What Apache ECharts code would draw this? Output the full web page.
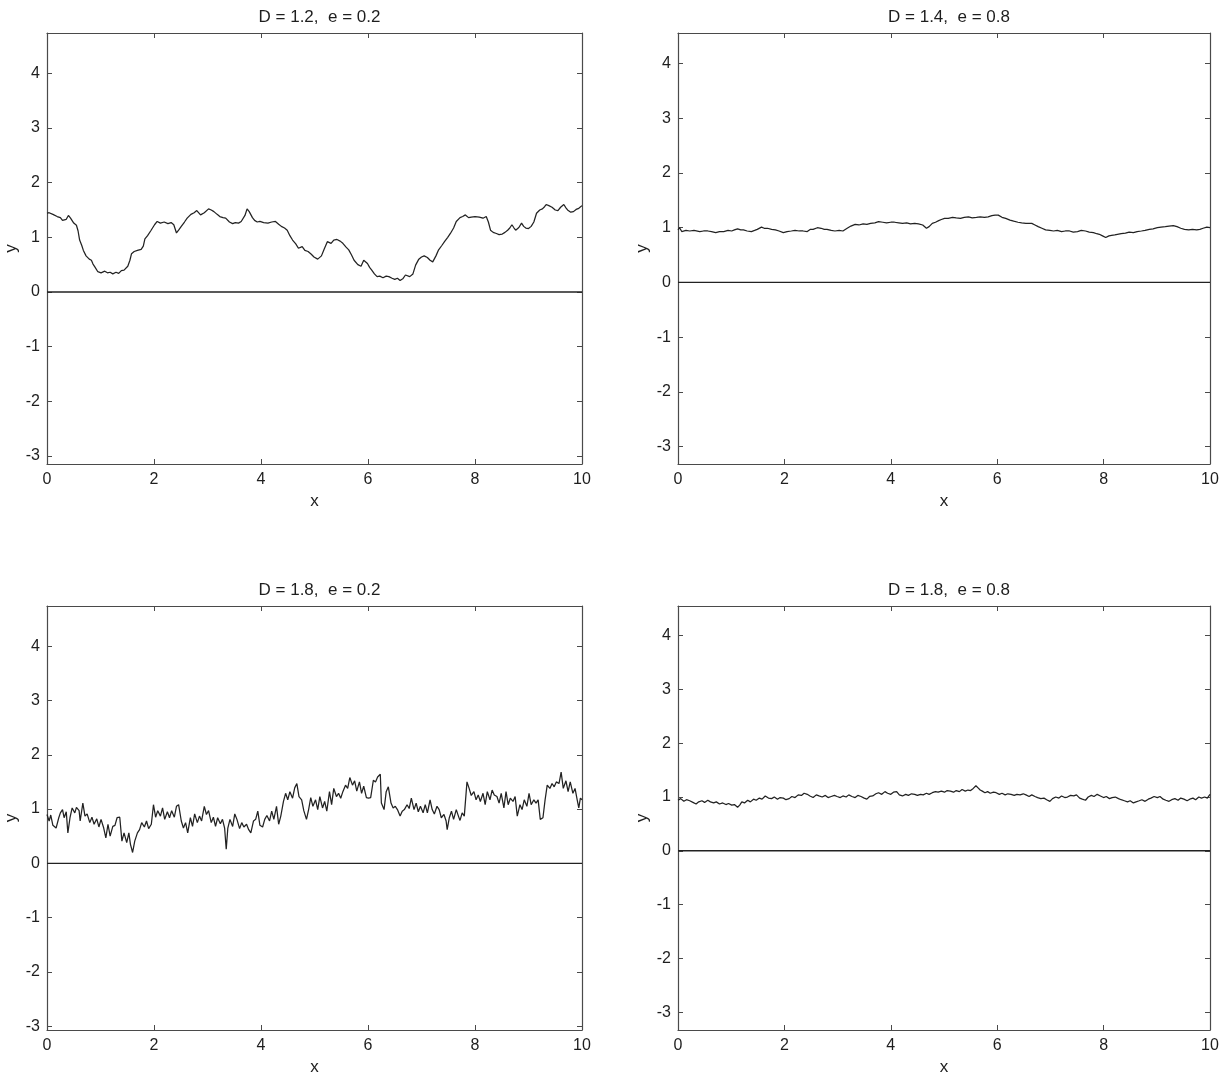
<!DOCTYPE html>
<html><head><meta charset="utf-8">
<script src="https://cdn.jsdelivr.net/npm/echarts@6/dist/echarts.min.js"></script>
<style>html,body{margin:0;padding:0;background:#fff}#c{width:1225px;height:1077px}</style>
</head><body><div id="c"></div>
<script>
const titles = ['D = 1.2,  e = 0.2', 'D = 1.4,  e = 0.8', 'D = 1.8,  e = 0.2', 'D = 1.8,  e = 0.8'];
const xTicks = [0, 2, 4, 6, 8, 10];
const yTicks = [-3, -2, -1, 0, 1, 2, 3, 4];
const yRanges = [[-3.15, 4.74], [-3.32, 4.56], [-3.07, 4.74], [-3.33, 4.55]];
const zeroX = [0, 10];
const zeroY = [0, 0];

// Panel 1: D = 1.2, e = 0.2
const x1 = [0,0.04,0.07,0.11,0.14,0.19,0.25,0.29,0.32,0.36,0.40,0.44,0.50,0.55,0.58,0.61,0.65,0.68,0.73,0.79,0.83,0.86,0.90,0.95,1.01,1.08,1.13,1.18,1.23,1.29,1.34,1.39,1.44,1.51,1.55,1.58,1.63,1.69,1.76,1.80,1.83,1.88,1.94,2.01,2.06,2.12,2.19,2.26,2.32,2.37,2.42,2.46,2.51,2.57,2.62,2.69,2.75,2.80,2.87,2.94,3.02,3.07,3.12,3.18,3.23,3.29,3.34,3.41,3.47,3.52,3.58,3.63,3.70,3.74,3.78,3.84,3.88,3.93,3.98,4.05,4.13,4.20,4.27,4.33,4.38,4.44,4.49,4.54,4.59,4.65,4.70,4.77,4.82,4.88,4.94,4.99,5.06,5.13,5.18,5.24,5.31,5.36,5.42,5.48,5.53,5.59,5.64,5.69,5.74,5.81,5.87,5.92,5.99,6.03,6.07,6.12,6.17,6.22,6.28,6.34,6.39,6.45,6.50,6.55,6.60,6.65,6.70,6.78,6.84,6.89,6.95,7.00,7.05,7.11,7.16,7.21,7.27,7.32,7.38,7.43,7.49,7.54,7.60,7.65,7.72,7.77,7.82,7.88,7.93,8.00,8.08,8.15,8.21,8.25,8.29,8.34,8.40,8.45,8.51,8.56,8.61,8.65,8.69,8.73,8.76,8.82,8.87,8.91,8.95,9.00,9.05,9.10,9.15,9.21,9.26,9.30,9.33,9.38,9.44,9.50,9.55,9.60,9.66,9.70,9.73,9.79,9.84,9.89,9.94,10];
const y1 = [1.44,1.45,1.46,1.42,1.40,1.38,1.36,1.31,1.29,1.33,1.40,1.35,1.26,1.22,1.12,0.95,0.85,0.76,0.66,0.60,0.58,0.51,0.45,0.37,0.35,0.38,0.35,0.36,0.33,0.36,0.34,0.39,0.40,0.47,0.58,0.70,0.74,0.76,0.78,0.84,0.97,1.03,1.12,1.23,1.29,1.26,1.28,1.25,1.27,1.23,1.08,1.13,1.20,1.28,1.35,1.42,1.45,1.49,1.41,1.45,1.52,1.50,1.47,1.42,1.38,1.36,1.35,1.28,1.25,1.27,1.26,1.29,1.40,1.52,1.47,1.36,1.31,1.28,1.29,1.27,1.26,1.28,1.29,1.24,1.20,1.17,1.13,1.03,0.95,0.88,0.80,0.83,0.76,0.74,0.69,0.64,0.60,0.66,0.78,0.92,0.89,0.95,0.96,0.93,0.89,0.82,0.77,0.68,0.58,0.50,0.47,0.58,0.52,0.45,0.40,0.33,0.28,0.29,0.26,0.29,0.28,0.25,0.23,0.25,0.21,0.24,0.31,0.28,0.33,0.49,0.60,0.64,0.66,0.63,0.58,0.55,0.66,0.77,0.85,0.92,1.00,1.07,1.17,1.29,1.36,1.38,1.41,1.36,1.37,1.38,1.37,1.35,1.38,1.28,1.13,1.09,1.07,1.05,1.06,1.09,1.13,1.17,1.23,1.17,1.13,1.18,1.26,1.20,1.17,1.16,1.20,1.28,1.44,1.50,1.52,1.56,1.60,1.58,1.55,1.50,1.49,1.55,1.60,1.54,1.50,1.46,1.47,1.51,1.53,1.58];

// Panel 2: D = 1.4, e = 0.8
const x2 = [0,0.03,0.07,0.15,0.22,0.30,0.41,0.48,0.56,0.63,0.71,0.78,0.86,0.94,1.01,1.06,1.12,1.18,1.23,1.30,1.38,1.44,1.49,1.57,1.62,1.68,1.76,1.83,1.90,1.98,2.05,2.13,2.20,2.28,2.35,2.43,2.49,2.54,2.62,2.69,2.75,2.80,2.88,2.95,3.03,3.10,3.18,3.25,3.33,3.40,3.48,3.55,3.62,3.70,3.77,3.85,3.92,4.00,4.07,4.15,4.22,4.30,4.37,4.45,4.52,4.60,4.67,4.72,4.78,4.84,4.90,4.95,5.01,5.08,5.16,5.23,5.31,5.38,5.46,5.53,5.61,5.68,5.76,5.83,5.90,5.96,6.02,6.09,6.16,6.24,6.31,6.39,6.46,6.54,6.60,6.65,6.71,6.77,6.84,6.91,6.99,7.06,7.13,7.21,7.28,7.36,7.43,7.51,7.58,7.66,7.73,7.81,7.87,7.92,7.98,8.04,8.10,8.15,8.21,8.26,8.33,8.41,8.48,8.56,8.63,8.71,8.78,8.86,8.93,9.01,9.08,9.16,9.23,9.31,9.38,9.45,9.52,9.60,9.67,9.75,9.81,9.87,9.94,10];
const y2 = [0.96,1.00,0.93,0.95,0.94,0.95,0.93,0.94,0.94,0.93,0.91,0.93,0.93,0.95,0.94,0.96,0.98,0.96,0.96,0.94,0.93,0.95,0.97,1.01,0.99,0.99,0.97,0.96,0.94,0.91,0.93,0.94,0.95,0.94,0.94,0.93,0.97,0.97,1.00,0.99,0.97,0.97,0.95,0.94,0.95,0.94,0.99,1.03,1.06,1.05,1.07,1.06,1.08,1.09,1.11,1.10,1.09,1.10,1.10,1.09,1.08,1.09,1.07,1.08,1.07,1.05,0.99,1.02,1.08,1.10,1.13,1.15,1.17,1.17,1.19,1.18,1.17,1.19,1.20,1.18,1.19,1.20,1.19,1.20,1.22,1.23,1.23,1.19,1.17,1.14,1.12,1.10,1.09,1.08,1.08,1.08,1.05,1.02,0.99,0.96,0.95,0.94,0.95,0.93,0.94,0.94,0.92,0.93,0.95,0.94,0.92,0.91,0.89,0.88,0.85,0.82,0.85,0.86,0.87,0.88,0.89,0.90,0.92,0.91,0.93,0.94,0.95,0.97,0.98,1.00,1.01,1.02,1.03,1.04,1.02,0.99,0.97,0.96,0.97,0.96,0.97,0.99,1.01,1.00];

// Panel 3: D = 1.8, e = 0.2
const x3 = [0,0.04,0.07,0.11,0.17,0.22,0.25,0.29,0.32,0.36,0.39,0.43,0.47,0.52,0.55,0.60,0.62,0.67,0.71,0.75,0.80,0.84,0.88,0.93,0.97,1.01,1.06,1.10,1.14,1.18,1.23,1.27,1.31,1.36,1.40,1.44,1.49,1.53,1.56,1.60,1.64,1.69,1.73,1.77,1.82,1.86,1.90,1.95,1.99,2.03,2.07,2.12,2.16,2.20,2.25,2.29,2.33,2.38,2.42,2.46,2.51,2.55,2.59,2.63,2.68,2.72,2.76,2.81,2.85,2.89,2.94,2.98,3.02,3.07,3.11,3.15,3.19,3.24,3.28,3.32,3.35,3.38,3.42,3.47,3.51,3.55,3.60,3.64,3.68,3.73,3.77,3.81,3.86,3.90,3.94,3.98,4.03,4.07,4.11,4.16,4.20,4.24,4.29,4.33,4.37,4.42,4.46,4.50,4.54,4.59,4.63,4.67,4.71,4.76,4.80,4.85,4.89,4.93,4.97,5.02,5.06,5.10,5.15,5.19,5.23,5.28,5.32,5.36,5.41,5.45,5.49,5.53,5.58,5.62,5.66,5.71,5.75,5.79,5.84,5.88,5.92,5.97,6.01,6.05,6.10,6.14,6.18,6.23,6.25,6.30,6.34,6.38,6.43,6.47,6.51,6.55,6.60,6.64,6.68,6.73,6.77,6.81,6.86,6.90,6.94,6.98,7.03,7.07,7.11,7.16,7.20,7.24,7.29,7.33,7.37,7.42,7.46,7.48,7.52,7.56,7.60,7.65,7.69,7.72,7.76,7.80,7.85,7.89,7.93,7.98,8.02,8.06,8.10,8.15,8.19,8.23,8.28,8.32,8.36,8.41,8.45,8.49,8.54,8.58,8.62,8.66,8.71,8.75,8.79,8.84,8.88,8.92,8.97,9.01,9.05,9.10,9.14,9.18,9.22,9.27,9.31,9.35,9.40,9.44,9.48,9.52,9.57,9.61,9.65,9.70,9.74,9.78,9.83,9.87,9.91,9.94,9.97,10];
const y3 = [0.90,0.78,0.89,0.70,0.65,0.84,0.93,0.99,0.84,0.95,0.56,0.84,1.02,0.93,1.03,0.97,0.78,1.11,0.87,0.91,0.75,0.85,0.72,0.82,0.67,0.81,0.65,0.47,0.72,0.50,0.68,0.70,0.84,0.85,0.41,0.56,0.38,0.56,0.35,0.20,0.41,0.56,0.62,0.75,0.67,0.78,0.64,0.72,1.08,0.85,0.97,0.87,1.02,0.81,0.95,0.84,0.97,0.85,1.05,1.08,0.78,0.65,0.75,0.56,0.84,0.68,0.91,0.75,0.87,0.78,1.05,0.90,0.97,0.75,0.85,0.68,0.84,0.73,0.81,0.65,0.26,0.65,0.81,0.68,0.91,0.81,0.64,0.75,0.67,0.72,0.62,0.56,0.78,0.81,0.96,0.70,0.67,0.81,0.88,0.78,0.96,0.81,1.05,0.72,0.87,1.14,1.29,1.17,1.32,1.20,1.39,1.47,1.23,1.17,0.97,0.81,0.99,1.21,1.05,1.17,0.99,1.23,1.02,1.14,0.96,1.32,1.08,1.38,1.23,1.29,1.20,1.32,1.44,1.38,1.58,1.44,1.52,1.33,1.50,1.29,1.42,1.21,1.20,1.21,1.53,1.50,1.59,1.64,1.11,0.99,1.32,1.41,1.11,1.02,1.05,0.99,0.87,0.96,0.99,1.08,1.01,1.20,0.99,1.11,0.95,1.05,0.93,1.08,0.93,1.17,0.99,0.91,1.05,0.99,0.84,0.90,0.78,0.62,0.84,0.96,0.81,0.99,0.87,0.79,0.93,0.87,1.50,1.38,1.25,1.32,1.17,1.26,1.14,1.29,1.08,1.32,1.17,1.35,1.26,1.23,1.11,1.29,1.02,1.32,1.08,1.20,1.14,1.23,0.87,1.08,0.99,1.17,1.05,1.29,1.08,1.17,1.11,1.17,0.81,0.84,1.17,1.44,1.38,1.47,1.41,1.50,1.47,1.68,1.38,1.52,1.32,1.50,1.29,1.38,1.17,1.02,1.20,1.17];

// Panel 4: D = 1.8, e = 0.8
const x4 = [0,0.05,0.11,0.16,0.22,0.28,0.34,0.39,0.45,0.50,0.56,0.61,0.67,0.72,0.78,0.84,0.90,0.95,1.01,1.06,1.12,1.16,1.20,1.25,1.31,1.36,1.42,1.47,1.53,1.58,1.64,1.70,1.76,1.81,1.87,1.92,1.98,2.03,2.09,2.14,2.20,2.26,2.32,2.37,2.43,2.48,2.54,2.60,2.65,2.71,2.77,2.82,2.88,2.94,2.99,3.05,3.10,3.16,3.21,3.27,3.33,3.38,3.44,3.50,3.55,3.60,3.66,3.72,3.77,3.83,3.89,3.94,4.00,4.05,4.11,4.16,4.22,4.28,4.33,4.39,4.45,4.50,4.56,4.61,4.67,4.72,4.78,4.84,4.89,4.95,5.01,5.06,5.12,5.18,5.23,5.29,5.34,5.40,5.45,5.50,5.55,5.60,5.64,5.68,5.72,5.77,5.82,5.87,5.93,5.98,6.04,6.09,6.15,6.20,6.26,6.32,6.37,6.43,6.49,6.54,6.60,6.65,6.71,6.76,6.82,6.88,6.93,6.99,7.04,7.10,7.16,7.21,7.27,7.32,7.38,7.44,7.49,7.55,7.60,7.66,7.71,7.77,7.82,7.88,7.94,8.00,8.05,8.11,8.16,8.22,8.28,8.33,8.39,8.45,8.50,8.56,8.61,8.67,8.72,8.78,8.84,8.89,8.95,9.01,9.06,9.12,9.17,9.23,9.28,9.34,9.40,9.45,9.51,9.57,9.62,9.68,9.73,9.79,9.84,9.90,9.95,10];
const y4 = [0.94,0.97,0.92,0.95,0.93,0.90,0.87,0.91,0.93,0.90,0.94,0.91,0.89,0.91,0.87,0.89,0.86,0.88,0.85,0.86,0.81,0.85,0.91,0.89,0.94,0.91,0.96,0.94,0.98,0.96,1.02,0.98,0.97,1.00,0.96,0.99,0.98,0.95,0.97,1.01,0.99,1.04,1.03,1.07,1.05,1.02,0.99,1.04,1.02,1.00,1.03,0.99,1.01,1.03,1.01,0.99,1.02,1.00,1.04,1.01,0.99,1.03,1.01,0.98,0.96,1.01,1.02,1.06,1.08,1.05,1.10,1.07,1.05,1.09,1.10,1.04,1.02,1.05,1.03,1.06,1.05,1.03,1.05,1.04,1.07,1.05,1.08,1.10,1.09,1.11,1.09,1.12,1.11,1.09,1.12,1.10,1.14,1.11,1.13,1.12,1.16,1.21,1.17,1.13,1.11,1.08,1.10,1.07,1.09,1.08,1.05,1.07,1.04,1.06,1.05,1.03,1.05,1.04,1.06,1.04,1.01,1.04,1.01,0.99,0.97,0.98,0.95,0.92,0.97,1.00,0.98,1.02,0.99,1.00,1.03,1.02,1.04,0.98,0.96,0.94,1.00,1.03,1.01,1.05,1.02,0.99,1.01,0.97,0.99,1.00,0.97,0.95,0.93,0.91,0.93,0.89,0.91,0.93,0.95,0.92,0.96,0.98,1.01,0.99,1.01,0.96,0.94,0.92,0.95,0.97,0.94,0.98,0.96,0.93,0.96,0.98,0.95,1.00,0.98,1.00,0.98,1.05];

const xs = [x1, x2, x3, x4];
const ys = [y1, y2, y3, y4];

const grids = [
  {left: 47, top: 33, width: 535, height: 431},
  {left: 678, top: 33, width: 532, height: 431},
  {left: 47, top: 606, width: 535, height: 431},
  {left: 678, top: 606, width: 532, height: 431}
];

const FONT = 'Liberation Sans';
const AX = '#4a4a4a';
const TXT = '#1e1e1e';

const xAxis = [], yAxis = [], series = [], title = [];
grids.forEach((g, i) => {
  title.push({
    text: titles[i], left: g.left + g.width / 2, top: g.top - 29, textAlign: 'center',
    textStyle: {fontFamily: FONT, fontSize: 17, fontWeight: 'normal', color: TXT}
  });
  const tick = {show: true, inside: true, length: 5, lineStyle: {color: AX, width: 1}};
  xAxis.push({
    type: 'value', gridIndex: i, position: 'bottom', min: 0, max: 10, interval: 2,
    name: 'x', nameLocation: 'middle', nameGap: 29,
    nameTextStyle: {fontFamily: FONT, fontSize: 17, color: TXT},
    axisLine: {show: true, onZero: false, lineStyle: {color: AX, width: 1.2}},
    axisTick: tick,
    axisLabel: {fontFamily: FONT, fontSize: 16, color: TXT, margin: 8, showMinLabel: true, showMaxLabel: true},
    splitLine: {show: false}
  });
  xAxis.push({
    type: 'value', gridIndex: i, position: 'top', min: 0, max: 10, interval: 2,
    axisLine: {show: true, onZero: false, lineStyle: {color: AX, width: 1.2}},
    axisTick: tick, axisLabel: {show: false}, splitLine: {show: false}
  });
  yAxis.push({
    type: 'value', gridIndex: i, position: 'left', min: yRanges[i][0], max: yRanges[i][1],
    name: 'y', nameLocation: 'middle', nameGap: 27,
    nameTextStyle: {fontFamily: FONT, fontSize: 17, color: TXT},
    axisLine: {show: true, onZero: false, lineStyle: {color: AX, width: 1.2}},
    axisTick: Object.assign({customValues: yTicks}, tick),
    axisLabel: {fontFamily: FONT, fontSize: 16, color: TXT, margin: 7, customValues: yTicks},
    splitLine: {show: false}
  });
  yAxis.push({
    type: 'value', gridIndex: i, position: 'right', min: yRanges[i][0], max: yRanges[i][1],
    axisLine: {show: true, onZero: false, lineStyle: {color: AX, width: 1.2}},
    axisTick: Object.assign({customValues: yTicks}, tick),
    axisLabel: {show: false, customValues: yTicks}, splitLine: {show: false}
  });
  series.push({
    type: 'line', xAxisIndex: i * 2, yAxisIndex: i * 2, showSymbol: false, silent: true,
    data: zeroX.map((x, k) => [x, zeroY[k]]),
    lineStyle: {color: '#222', width: 1.4}
  });
  series.push({
    type: 'line', xAxisIndex: i * 2, yAxisIndex: i * 2, showSymbol: false, silent: true,
    data: xs[i].map((x, k) => [x, ys[i][k]]),
    lineStyle: {color: '#222', width: 1.25}
  });
});

const chart = echarts.init(document.getElementById('c'), null, {renderer: 'canvas'});
chart.setOption({
  animation: false,
  backgroundColor: '#fff',
  title, grid: grids, xAxis, yAxis, series
});
</script></body></html>
